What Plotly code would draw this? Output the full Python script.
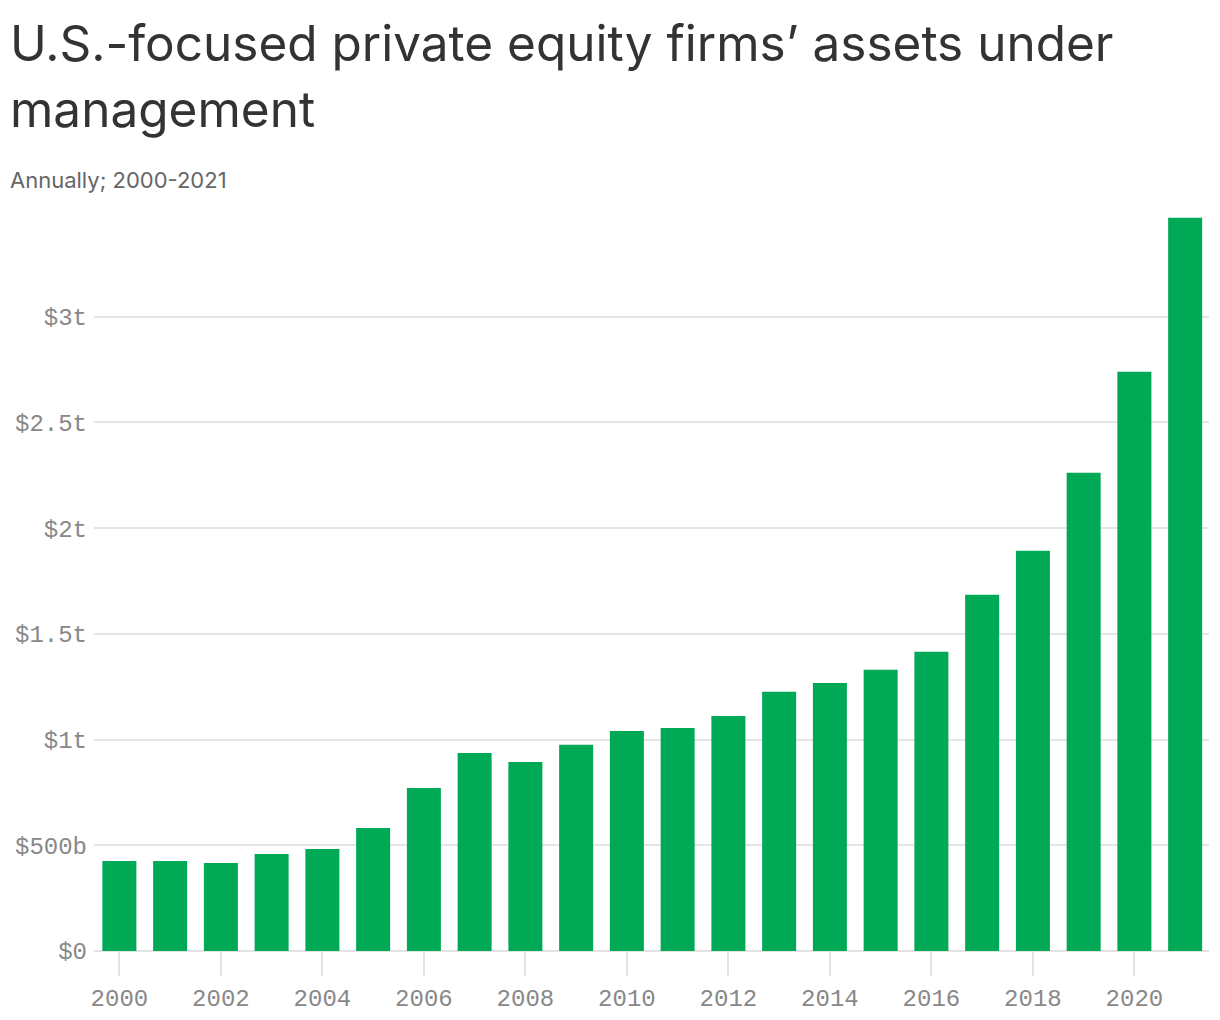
import plotly.graph_objects as go

years = list(range(2000, 2022))
aum_trillions = [0.426, 0.426, 0.416, 0.459, 0.483, 0.582, 0.771, 0.937, 0.894, 0.975,
                 1.041, 1.055, 1.112, 1.226, 1.268, 1.330, 1.415, 1.685, 1.893, 2.262,
                 2.740, 3.468]
y_tick_vals = [0, 0.5, 1, 1.5, 2, 2.5, 3]
y_tick_text = ["$0", "$500b", "$1t", "$1.5t", "$2t", "$2.5t", "$3t"]
x_tick_vals = list(range(2000, 2022, 2))

title_line1 = "U.S.-focused private equity firms’ assets under"
title_line2 = "management"
subtitle = "Annually; 2000-2021"

GREEN = "#00a956"
MONO = "Liberation Mono"

# page has an 8px body margin; plot area in figure coords
L, R, T, B = 86, 1201, 203, 943
PW, PH = R - L, B - T

fig = go.Figure(go.Bar(x=years, y=aum_trillions, marker_color=GREEN,
                       marker_line_width=0, hoverinfo="x+y"))

def py(fig_y):
    return (B - fig_y) / PH

fig.update_layout(
    width=1220, height=1020,
    margin=dict(l=L, r=1220 - R, t=T, b=1020 - B, autoexpand=False),
    paper_bgcolor="white", plot_bgcolor="white",
    bargap=0.33,
    showlegend=False,
    font=dict(family="Inter", color="#333"),
    annotations=[
        dict(text=title_line1, xref="paper", yref="paper", x=-L / PW, y=py(54),
             xanchor="left", yanchor="bottom", showarrow=False,
             font=dict(family="Inter", size=49.5, color="#333333"), yshift=-13),
        dict(text=title_line2, xref="paper", yref="paper", x=-L / PW, y=py(120),
             xanchor="left", yanchor="bottom", showarrow=False,
             font=dict(family="Inter", size=49.5, color="#333333"), yshift=-13),
        dict(text=subtitle, xref="paper", yref="paper", x=-L / PW, y=py(172),
             xanchor="left", yanchor="middle", showarrow=False,
             font=dict(family="Inter", size=22, color="#666666")),
    ],
    xaxis=dict(range=[1999.5, 2021.47], tickvals=x_tick_vals, ticks="outside",
               ticklen=24, tickcolor="#e3e3e3", tickwidth=2, showgrid=False,
               showline=False, zeroline=False, ticklabelstandoff=1, automargin=False,
               tickfont=dict(family=MONO, size=24, color="#888888")),
    yaxis=dict(range=[0, 3.5], tickvals=y_tick_vals, ticktext=y_tick_text,
               showgrid=True, gridcolor="#e5e5e5", gridwidth=1.5,
               zeroline=True, zerolinecolor="#e3e3e3", zerolinewidth=2,
               ticks="", ticklabelstandoff=6, automargin=False,
               tickfont=dict(family=MONO, size=24, color="#888888")),
)

fig.write_html("out.html")
